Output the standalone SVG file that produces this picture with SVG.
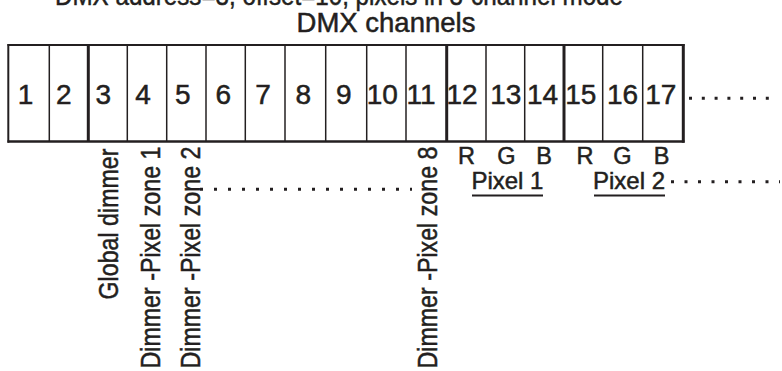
<svg xmlns="http://www.w3.org/2000/svg" width="782" height="371" viewBox="0 0 782 371">
<style>
text{font-family:"Liberation Sans",Arial,sans-serif;fill:#231f20;stroke:#231f20;stroke-width:0.5}
.num{font-size:28px}
.ttl{font-size:27.5px}
.rgb{font-size:23.5px;text-anchor:middle}
.pix{font-size:24px}
.rot{font-size:27.5px}
.thin{stroke:#231f20;stroke-width:1.5}
.thick{stroke:#231f20;stroke-width:3}
.dots{stroke:#231f20;stroke-width:3;stroke-dasharray:3 11;fill:none}
</style>
<rect width="782" height="371" fill="#fff"/>
<g id="title">
<text class="ttl" x="339" y="5" text-anchor="middle" textLength="568" lengthAdjust="spacingAndGlyphs">DMX address=3, offset=10, pixels in 3-channel mode</text>
<text class="ttl" x="386" y="32" text-anchor="middle">DMX channels</text>
</g>
<g id="grid">
<line class="thin" x1="7.5" y1="45" x2="684.5" y2="45" style="stroke-width:2"/>
<line class="thin" x1="7.5" y1="141.5" x2="684.5" y2="141.5" style="stroke-width:2.5"/>
<line class="thin" x1="8.3" y1="44" x2="8.3" y2="142.7" style="stroke-width:2"/>
<line class="thin" x1="49.3" y1="45" x2="49.3" y2="141.5"/>
<line class="thick" x1="88.3" y1="45" x2="88.3" y2="141.5"/>
<line class="thin" x1="127.3" y1="45" x2="127.3" y2="141.5"/>
<line class="thin" x1="166.7" y1="45" x2="166.7" y2="141.5"/>
<line class="thin" x1="206" y1="45" x2="206" y2="141.5"/>
<line class="thin" x1="245.3" y1="45" x2="245.3" y2="141.5"/>
<line class="thin" x1="285" y1="45" x2="285" y2="141.5"/>
<line class="thin" x1="325.7" y1="45" x2="325.7" y2="141.5"/>
<line class="thin" x1="366.7" y1="45" x2="366.7" y2="141.5"/>
<line class="thin" x1="406" y1="45" x2="406" y2="141.5"/>
<line class="thick" x1="446.7" y1="45" x2="446.7" y2="141.5"/>
<line class="thin" x1="486" y1="45" x2="486" y2="141.5"/>
<line class="thin" x1="524.7" y1="45" x2="524.7" y2="141.5"/>
<line class="thick" x1="564" y1="45" x2="564" y2="141.5"/>
<line class="thin" x1="602.7" y1="45" x2="602.7" y2="141.5"/>
<line class="thin" x1="642.7" y1="45" x2="642.7" y2="141.5"/>
<line class="thick" x1="683.3" y1="44" x2="683.3" y2="142.7"/>
</g>
<g id="ch1"><text class="num" x="17.7" y="103.5">1</text></g>
<g id="ch2"><text class="num" x="55.9" y="103.5">2</text></g>
<g id="ch3"><text class="num" x="95.5" y="103.5">3</text></g>
<g id="ch4"><text class="num" x="135.3" y="103.5">4</text></g>
<g id="ch5"><text class="num" x="175" y="103.5">5</text></g>
<g id="ch6"><text class="num" x="215.5" y="103.5">6</text></g>
<g id="ch7"><text class="num" x="255.3" y="103.5">7</text></g>
<g id="ch8"><text class="num" x="295.5" y="103.5">8</text></g>
<g id="ch9"><text class="num" x="336" y="103.5">9</text></g>
<g id="ch10"><text class="num" x="366.8" y="103.5">10</text></g>
<g id="ch11"><text class="num" x="406.5" y="103.5">11</text></g>
<g id="ch12"><text class="num" x="446.5" y="103.5">12</text><text class="rgb" x="466.5" y="163.5">R</text></g>
<g id="ch13"><text class="num" x="490.3" y="103.5">13</text><text class="rgb" x="506.5" y="163.5">G</text></g>
<g id="ch14"><text class="num" x="527" y="103.5">14</text><text class="rgb" x="544" y="163.5">B</text></g>
<g id="ch15"><text class="num" x="565.3" y="103.5">15</text><text class="rgb" x="585" y="163.5">R</text></g>
<g id="ch16"><text class="num" x="607" y="103.5">16</text><text class="rgb" x="622.5" y="163.5">G</text></g>
<g id="ch17"><text class="num" x="645.3" y="103.5">17</text><text class="rgb" x="661.7" y="163.5">B</text></g>
<g id="label-global"><text class="rot" transform="translate(118.3 299.5) rotate(-90) scale(0.845 1)">Global dimmer</text></g>
<g id="label-zone1"><text class="rot" transform="translate(160 368.5) rotate(-90) scale(0.845 1)">Dimmer -Pixel zone 1</text></g>
<g id="label-zone2"><text class="rot" transform="translate(200 368.5) rotate(-90) scale(0.845 1)">Dimmer -Pixel zone 2</text></g>
<g id="label-zone8"><text class="rot" transform="translate(436.5 368.5) rotate(-90) scale(0.845 1)">Dimmer -Pixel zone 8</text></g>
<g id="pixel1"><text class="pix" x="471.4" y="188.5">Pixel 1</text><line x1="472" y1="195.5" x2="543" y2="195.5" stroke="#231f20" stroke-width="1.8"/></g>
<g id="pixel2"><text class="pix" x="593" y="188.5">Pixel 2</text><line x1="594" y1="195.5" x2="665" y2="195.5" stroke="#231f20" stroke-width="1.8"/></g>
<g id="connectors">
<line class="dots" x1="200" y1="189.3" x2="412" y2="189.3"/>
<line class="dots" x1="671" y1="181.7" x2="780" y2="181.7" style="stroke-dasharray:3 10.5"/>
<line class="dots" x1="689" y1="98.3" x2="770" y2="98.3" style="stroke-dasharray:3 9.8"/>
</g>
</svg>
